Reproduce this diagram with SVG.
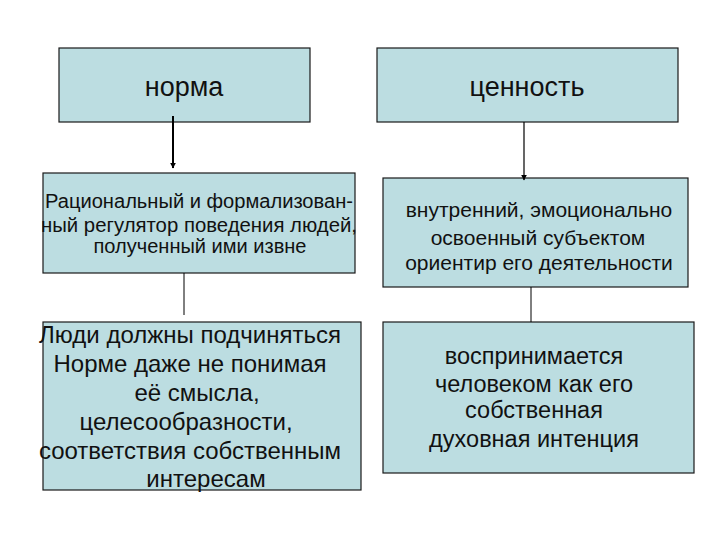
<svg xmlns="http://www.w3.org/2000/svg" width="720" height="540" viewBox="0 0 720 540">
<defs>
<style>
.box{fill:#bcdde1;stroke:#1a1a1a;stroke-width:1.2}
text{font-family:"Liberation Sans",Arial,sans-serif;fill:#111;text-anchor:middle}
.conn{stroke:#000;fill:none}
</style>
<marker id="ah" viewBox="0 0 10 10" refX="9" refY="5" markerWidth="6" markerHeight="6" markerUnits="userSpaceOnUse" orient="auto">
<path d="M0,0 L10,5 L0,10 z" fill="#000"/>
</marker>
</defs>
<rect width="720" height="540" fill="#fff"/>
<g id="norma">
<rect class="box" x="59" y="48" width="251" height="74"/>
<text x="184" y="96" font-size="27">норма</text>
</g>
<g id="cennost">
<rect class="box" x="377" y="48" width="301" height="74"/>
<text x="527" y="96" font-size="27">ценность</text>
</g>
<g id="racionalny">
<rect class="box" x="43" y="173" width="312" height="100"/>
<text font-size="19.5"><tspan x="199" y="208" textLength="308" lengthAdjust="spacingAndGlyphs">Рациональный и формализован-</tspan><tspan x="199" y="232" textLength="316" lengthAdjust="spacingAndGlyphs">ный  регулятор поведения людей,</tspan><tspan x="200" y="253" textLength="213" lengthAdjust="spacingAndGlyphs">полученный ими извне</tspan></text>
</g>
<g id="vnutrenny">
<rect class="box" x="383" y="178" width="305" height="109"/>
<text font-size="21"><tspan x="539" y="217">внутренний, эмоционально</tspan><tspan x="538" y="245">освоенный субъектом</tspan><tspan x="539" y="270">ориентир его деятельности</tspan></text>
</g>
<g id="lyudi">
<rect class="box" x="43" y="322" width="318" height="168"/>
<text font-size="24"><tspan x="190" y="343">Люди должны подчиняться</tspan><tspan x="190" y="372">Норме даже не понимая</tspan><tspan x="197" y="401">её смысла,</tspan><tspan x="186" y="430">целесообразности,</tspan><tspan x="190" y="459">соответствия собственным</tspan><tspan x="206" y="487">интересам</tspan></text>
</g>
<g id="vosprinimaetsya">
<rect class="box" x="383" y="322" width="311" height="151"/>
<text font-size="23.5"><tspan x="534" y="364">воспринимается</tspan><tspan x="534" y="392">человеком как его</tspan><tspan x="534" y="418">собственная</tspan><tspan x="534" y="447">духовная интенция</tspan></text>
</g>
<g id="connectors">
<line class="conn" x1="173" y1="116" x2="173" y2="168" stroke-width="2" marker-end="url(#ah)"/>
<line class="conn" x1="524" y1="122" x2="524" y2="180" stroke-width="1.2" marker-end="url(#ah)"/>
<line class="conn" x1="184" y1="273" x2="184" y2="315" stroke-width="1"/>
<line class="conn" x1="531" y1="287" x2="531" y2="322" stroke-width="1"/>
</g>
</svg>
